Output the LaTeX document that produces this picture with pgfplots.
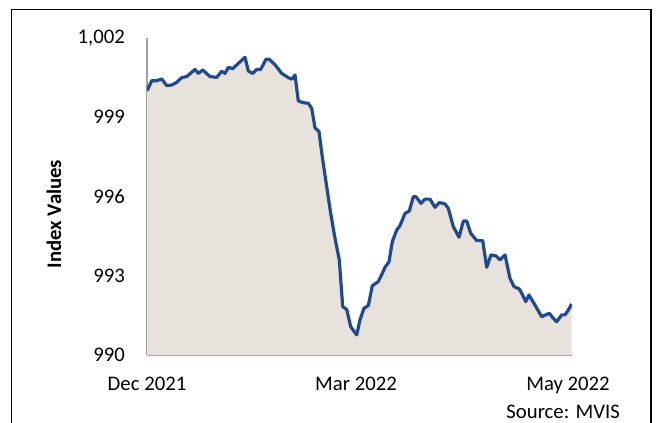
\documentclass[border=0pt]{standalone}
\usepackage{pgfplots}
\pgfplotsset{compat=1.18}
\usepackage{pgfplotstable}
\usepackage{fontspec}
\setmainfont{Carlito}
\definecolor{linecol}{RGB}{31,73,145}
\definecolor{fillcol}{RGB}{231,227,220}
\definecolor{axcol}{RGB}{160,160,160}
\pgfplotstableread{
x y
0 1000.00
4.7 1000.38
9.7 1000.38
14.7 1000.45
19.7 1000.20
24.7 1000.22
29.7 1000.32
34.7 1000.50
39.7 1000.54
48.0 1000.81
51.3 1000.66
55.7 1000.79
63.0 1000.54
69.7 1000.51
74.7 1000.74
78.0 1000.66
81.3 1000.89
85.7 1000.84
91.3 1001.04
98.0 1001.27
101.3 1000.75
105.7 1000.66
109.7 1000.81
113.7 1000.81
119.0 1001.20
122.3 1001.19
128.0 1000.99
134.7 1000.66
141.3 1000.50
144.7 1000.44
148.0 1000.60
151.3 999.62
156.3 999.55
161.3 999.53
164.7 999.34
168.0 998.60
172.0 998.46
175.3 997.50
179.7 996.37
183.7 995.36
188.0 994.42
192.3 993.60
195.7 991.83
199.7 991.73
203.7 991.07
209.7 990.76
213.0 991.33
217.0 991.77
221.3 991.87
225.3 992.62
231.3 992.78
235.3 993.09
238.0 993.32
242.0 993.53
245.3 994.29
249.7 994.73
253.0 994.90
258.0 995.36
262.3 995.45
266.3 995.99
269.0 995.99
274.0 995.74
278.0 995.90
283.0 995.90
288.0 995.59
292.3 995.77
298.0 995.72
301.3 995.55
306.3 994.86
312.0 994.46
316.3 995.07
319.7 995.07
323.7 994.61
329.7 994.33
335.7 994.33
339.7 993.32
344.0 993.79
349.0 993.75
353.0 993.60
358.0 993.79
363.0 992.90
367.0 992.59
372.3 992.50
374.7 992.34
378.7 992.02
382.0 992.27
388.0 991.89
394.7 991.45
402.3 991.58
406.3 991.39
409.7 991.26
414.7 991.52
418.0 991.52
421.3 991.70
424.7 991.93
}\datatable
\begin{document}
\begin{tikzpicture}
\useasboundingbox (0bp,0bp) rectangle (657bp,-423bp);
\draw[line width=1.1bp, black] (11.5bp,-470bp) -- (11.5bp,-9.5bp) -- (651bp,-9.5bp) -- (651bp,-470bp);
\begin{axis}[
  at={(147bp,-355bp)}, anchor=south west,
  scale only axis, width=425bp, height=317bp,
  xmin=0, xmax=425, ymin=990, ymax=1002,
  axis x line=bottom, axis y line=left,
  axis line style={axcol, line width=1.5bp, -},
  major tick length=0pt,
  xtick={0,209,421},
  xticklabels={Dec 2021, Mar 2022, May 2022},
  ytick={990,993,996,999,1002},
  yticklabels={990,993,996,999,{1,002}},
  /pgf/number format/assume math mode=true,
  tick label style={font=\fontsize{20.8}{24}\selectfont, text=black, inner sep=0pt},
  xticklabel style={anchor=north, yshift=-22bp},
  yticklabel style={anchor=east, xshift=-22bp},
  ylabel={Index Values},
  ylabel style={font=\fontsize{20.8}{24}\selectfont\bfseries, at={(axis description cs:-0.2188,0.445)}, anchor=center, rotate=0},
  clip=true,
]
\addplot[draw=none, fill=fillcol] table[x=x,y=y]{\datatable} |- (axis cs:0,990) -- cycle;
\addplot[linecol, line width=3.2bp, line join=round] table[x=x,y=y]{\datatable};
\end{axis}
\node[anchor=base east, font=\fontsize{20.8}{24}\selectfont, inner sep=0pt] at (620bp,-418bp) {Source: MVIS};
\end{tikzpicture}
\end{document}
